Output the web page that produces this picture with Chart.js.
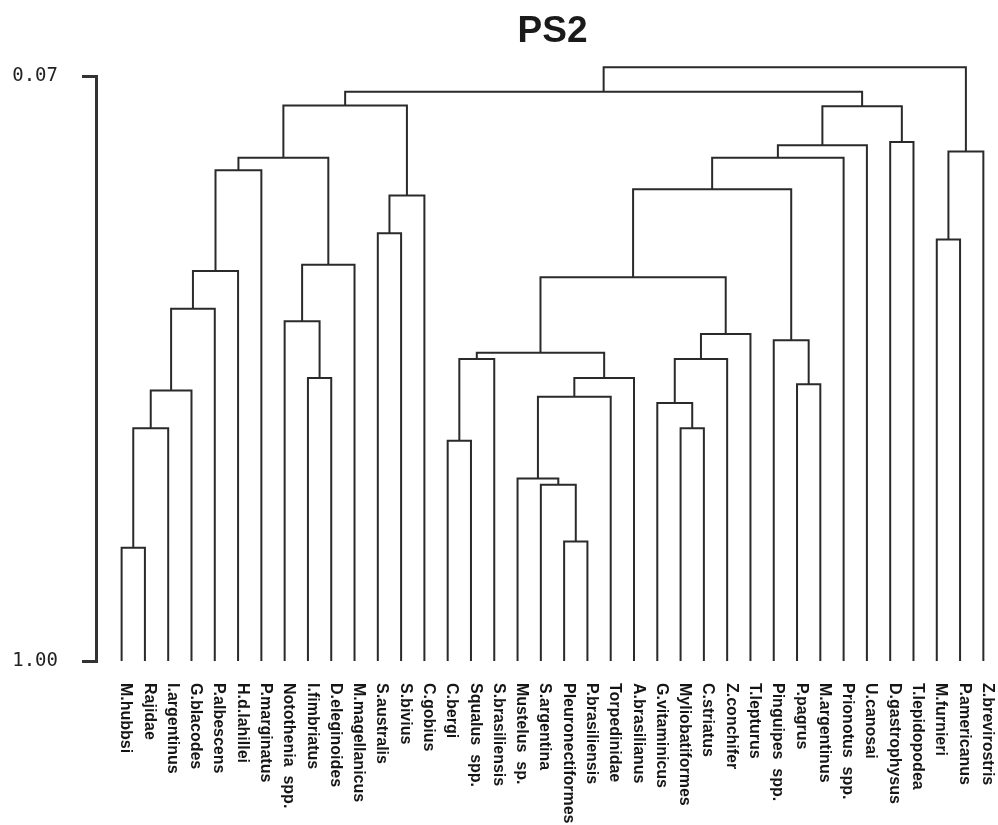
<!DOCTYPE html>
<html>
<head>
<meta charset="utf-8">
<script src="https://cdn.jsdelivr.net/npm/chart.js@4/dist/chart.umd.min.js"></script>
<style>
  html, body { margin: 0; padding: 0; background: #ffffff; }
  #wrap { width: 998px; height: 825px; position: relative; }
</style>
</head>
<body>
<div id="wrap"><canvas id="c"></canvas></div>
<script>
// Dendrogram PS2: species grouped by similarity (1.00 = identical).
const chartTitle = 'PS2';

const species = [
  'M.hubbsi', 'Rajidae', 'I.argentinus', 'G.blacodes', 'P.albescens',
  'H.d.lahillei', 'P.marginatus', 'Notothenia  spp.', 'I.fimbriatus',
  'D.eleginoides', 'M.magellanicus', 'S.australis', 'S.bivius', 'C.gobius',
  'C.bergi', 'Squalus  spp.', 'S.brasiliensis', 'Mustelus  sp.',
  'S.argentina', 'Pleuronectiformes', 'P.brasiliensis', 'Torpedinidae',
  'A.brasilianus', 'G.vitaminicus', 'Myliobatiformes', 'C.striatus',
  'Z.conchifer', 'T.lepturus', 'Pinguipes  spp.', 'P.pagrus',
  'M.argentinus', 'Prionotus  spp.', 'U.canosai', 'D.gastrophysus',
  'T.lepidopodea', 'M.furnieri', 'P.americanus', 'Z.brevirostris'
];

// Linkage: ids 0..37 are species, id 38 + k is the cluster made by join k.
const joinLeft  = [0, 38, 39, 40, 41, 42, 8, 7, 45, 43, 11, 48, 47, 14, 51, 19, 18, 17, 55, 56, 52, 24, 23, 60, 61, 58, 29, 28, 63, 66, 67, 33, 68, 50, 35, 72, 71];
const joinRight = [1, 2, 3, 4, 5, 6, 9, 44, 10, 46, 12, 13, 49, 15, 16, 20, 53, 54, 21, 22, 57, 25, 59, 26, 27, 62, 30, 64, 65, 31, 32, 34, 69, 70, 36, 37, 73];
const joinLevel = [0.82, 0.63, 0.57, 0.44, 0.38, 0.22, 0.55, 0.46, 0.37, 0.20, 0.32, 0.26, 0.117,
                   0.65, 0.52, 0.81, 0.72, 0.71, 0.58, 0.55, 0.51, 0.63, 0.59, 0.52, 0.48, 0.39,
                   0.56, 0.49, 0.25, 0.20, 0.18, 0.175, 0.118, 0.095, 0.33, 0.19, 0.056];

const axisTicks = [0.07, 1.00];

// Build one bracket per join; a cluster sits midway between its two children.
const nodeX = species.map((_, i) => i);
const nodeY = species.map(() => 1.0);
const datasets = [];
joinLeft.forEach((a, k) => {
  const b = joinRight[k];
  const h = joinLevel[k];
  datasets.push({
    data: [
      { x: nodeX[a], y: nodeY[a] },
      { x: nodeX[a], y: h },
      { x: nodeX[b], y: h },
      { x: nodeX[b], y: nodeY[b] }
    ],
    borderColor: '#2a2a2a',
    borderWidth: 2,
    pointRadius: 0,
    tension: 0,
    fill: false,
    clip: false
  });
  nodeX.push((nodeX[a] + nodeX[b]) / 2);
  nodeY.push(h);
});

// Species names (rotated) and the title.
const leafLabels = {
  id: 'leafLabels',
  afterDraw(chart) {
    const ctx = chart.ctx;
    const xs = chart.scales.x;
    const ys = chart.scales.y;
    const base = ys.getPixelForValue(1.0);
    ctx.save();
    ctx.fillStyle = '#151515';
    ctx.font = 'bold 16px "Liberation Sans", Arial, sans-serif';
    ctx.textAlign = 'left';
    ctx.textBaseline = 'middle';
    species.forEach((name, i) => {
      ctx.save();
      ctx.translate(xs.getPixelForValue(i) + 4, base + 22);
      ctx.rotate(Math.PI / 2);
      ctx.fillText(name, 0, 0);
      ctx.restore();
    });
    ctx.font = 'bold 37px "Liberation Sans", Arial, sans-serif';
    ctx.textAlign = 'center';
    ctx.textBaseline = 'alphabetic';
    ctx.fillStyle = '#1a1a1a';
    ctx.fillText(chartTitle, xs.getPixelForValue((species.length - 1) / 2), chart.chartArea.top - 34);
    ctx.restore();
  }
};

new Chart(document.getElementById('c'), {
  type: 'line',
  data: { datasets },
  plugins: [leafLabels],
  options: {
    responsive: true,
    maintainAspectRatio: false,
    animation: false,
    events: [],
    layout: { padding: { top: 76, bottom: 164, left: 0, right: 3 } },
    plugins: {
      legend: { display: false },
      tooltip: { enabled: false },
      title: { display: false }
    },
    scales: {
      x: {
        type: 'linear',
        display: false,
        min: -1.1,
        max: 37.5
      },
      y: {
        type: 'linear',
        reverse: true,
        min: 0.07,
        max: 1.0,
        afterFit(scale) { scale.width = 96; },
        afterBuildTicks(scale) { scale.ticks = axisTicks.map(v => ({ value: v })); },
        ticks: {
          callback: v => Number(v).toFixed(2),
          font: { family: '"DejaVu Sans Mono", monospace', size: 19 },
          color: '#222222',
          padding: 24
        },
        grid: {
          drawOnChartArea: false,
          drawTicks: true,
          tickLength: 14,
          color: '#333333',
          lineWidth: 3
        },
        border: { display: true, color: '#333333', width: 3 }
      }
    }
  }
});
</script>
</body>
</html>
